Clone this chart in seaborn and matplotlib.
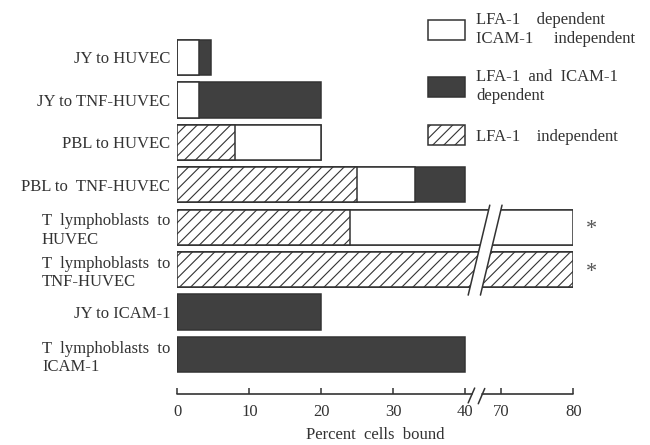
"""
Horizontal stacked bars of percent cells bound, with a broken x axis (40 -> 70).
"""

import numpy as np
import seaborn as sns
import matplotlib.pyplot as plt
from matplotlib.patches import Patch, Polygon

# Data
labels = ['JY to HUVEC', 'JY to TNF-HUVEC', 'PBL to HUVEC', 'PBL to  TNF-HUVEC',
          'T  lymphoblasts  to\nHUVEC', 'T  lymphoblasts  to\nTNF-HUVEC',
          'JY to ICAM-1', 'T  lymphoblasts  to\nICAM-1']
lfa_indep = [0, 0, 8, 25, 24, 80, 0, 0]            # hatched
lfa_dep_icam_indep = [3, 3, 12, 8, 56, 0, 0, 0]    # white
lfa_icam_dep = [1.7, 17, 0, 7, 0, 0, 20, 40]       # dark
legend_labels = ['LFA-1    dependent\nICAM-1     independent',
                 'LFA-1  and  ICAM-1\ndependent',
                 'LFA-1    independent']
tick_values = [0, 10, 20, 30, 40, 70, 80]

# axis break: values above 40 are shifted left by 25 (70 -> 45)
brk_lo, brk_hi, brk_gap = 40, 70, 5


def squash(v):
    v = np.asarray(v, dtype=float)
    return np.where(v > brk_lo, v - (brk_hi - brk_lo) + brk_gap, v)


h = np.array(lfa_indep)
hw = h + np.array(lfa_dep_icam_indep)
total = hw + np.array(lfa_icam_dep)

ink = '#333333'
dark = '#404040'
hatch = '///'

sns.set_style('white')
plt.rcParams['font.family'] = ['Liberation Serif', 'DejaVu Serif']
plt.rcParams['hatch.linewidth'] = 0.8
plt.rcParams['text.color'] = ink

fig = plt.figure(figsize=(6.5, 4.45), dpi=100)
ax = fig.add_axes([0.2728, 0.1146, 0.6092, 0.8135])

bar_kw = dict(y=labels, orient='h', width=0.83, saturation=1,
              edgecolor=ink, linewidth=1.1, ax=ax)
sns.barplot(x=squash(total), color=dark, **bar_kw)
sns.barplot(x=squash(hw), color='white', **bar_kw)
sns.barplot(x=squash(h), color='white', hatch=hatch, **bar_kw)

ytop, ybot = -0.6, 7.93
ax.set_xlim(0, squash(80))
ax.set_ylim(ybot, ytop)

# bars that run past the break
long_rows = [i for i, t in enumerate(total) if t > brk_lo]
y0, y1 = min(long_rows) - 0.52, max(long_rows) + 0.6
band = Polygon([(43.4, y0), (45.1, y0), (42.1, y1), (40.4, y1)], closed=True,
               facecolor='white', edgecolor='none', zorder=5, clip_on=False)
ax.add_patch(band)
ax.plot([43.4, 40.4], [y0, y1], color=ink, lw=1.1, zorder=6, clip_on=False)
ax.plot([45.1, 42.1], [y0, y1], color=ink, lw=1.1, zorder=6, clip_on=False)
for i in long_rows:
    ax.annotate('*', xy=(squash(80), i), xytext=(9, -2), textcoords='offset points',
                va='center', ha='left', fontsize=16, color='#555555',
                annotation_clip=False)

# broken bottom axis line with // marks
for spine in ax.spines.values():
    spine.set_visible(False)
ax.plot([0, 40.9], [ybot, ybot], color=ink, lw=1.2, clip_on=False)
ax.plot([42.3, squash(80)], [ybot, ybot], color=ink, lw=1.2, clip_on=False)
ax.plot([40.4, 41.3], [8.14, 7.79], color=ink, lw=1.1, clip_on=False)
ax.plot([41.8, 42.7], [8.16, 7.80], color=ink, lw=1.1, clip_on=False)

ax.set_xticks(squash(tick_values))
ax.set_xticklabels([str(t) for t in tick_values])
ax.set_xticks(squash([0, 80]), minor=True)
ax.tick_params(axis='x', which='major', direction='in', length=4.5, width=1.1,
               color=ink, labelsize=12, labelcolor=ink, pad=7, bottom=True)
ax.tick_params(axis='x', which='minor', direction='in', length=10, width=1.1,
               color=ink, bottom=True)
ax.tick_params(axis='y', length=0, labelsize=12, labelcolor=ink, pad=5)
for t in ax.get_yticklabels():
    t.set_multialignment('left')

ax.set_xlabel('Percent  cells  bound', fontsize=12, color=ink, labelpad=5)
ax.set_ylabel('')

handles = [Patch(facecolor='white', edgecolor=ink, lw=1.1),
           Patch(facecolor=dark, edgecolor=ink, lw=1.1),
           Patch(facecolor='white', edgecolor=ink, lw=1.1, hatch=hatch)]
leg = fig.legend(handles, legend_labels, loc='upper left',
                 bbox_to_anchor=(428 / 650, 1 - 12 / 445), frameon=False,
                 fontsize=12, handlelength=2.2, handleheight=1.45,
                 handletextpad=0.7, labelspacing=1.3, borderpad=0,
                 borderaxespad=0)
for t in leg.get_texts():
    t.set_linespacing(1.25)

fig.savefig('out.png', dpi=100, facecolor='white')
